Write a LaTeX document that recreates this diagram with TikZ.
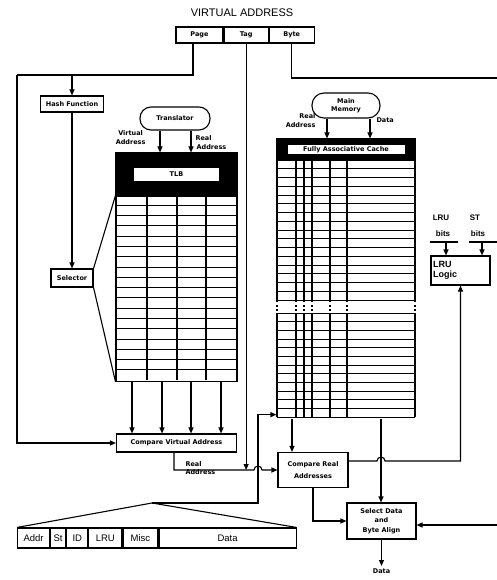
\documentclass[tikz,border=0pt]{standalone}
\usepackage{fontspec}
\setmainfont{Liberation Sans}
\newfontfamily\lblfont{DejaVu Sans}
\usetikzlibrary{arrows.meta,positioning}

\begin{document}
\begin{tikzpicture}[x=1pt, y=-1pt, line width=1.1pt,
  >={Stealth[inset=0pt, length=6pt, width=5pt]},
  lbl/.style={font=\lblfont\bfseries\fontsize{6.5}{8.5}\selectfont, align=center, inner sep=1pt},
  unit/.style={draw, lbl, inner sep=0pt},
  field/.style={draw, font=\fontsize{9.5}{11}\selectfont, minimum height=20pt, inner sep=0pt, anchor=west},
  bitlbl/.style={font=\bfseries\fontsize{8}{9}\selectfont, inner sep=0pt},
  rowline/.style={line width=0.8pt}]

\useasboundingbox (0,0) rectangle (497,580);

%%% Virtual address
\node[font=\fontsize{11}{13}\selectfont] (title) at (242,13) {VIRTUAL ADDRESS};
\node[unit, minimum width=47pt, minimum height=16pt] (page) at (199.5,35) {Page};
\node[unit, minimum width=44pt, minimum height=16pt, right=0pt of page] (tag) {Tag};
\node[unit, minimum width=45pt, minimum height=16pt, right=0pt of tag] (byte) {Byte};

%%% TLB side
\node[unit, minimum width=63pt, minimum height=16pt] (hash) at (72,104) {Hash Function};
\node[unit, minimum width=42pt, minimum height=18pt] (sel) at (72,278) {Selector};
\node[unit, rounded corners=11pt, minimum width=70pt, minimum height=23pt] (trans) at (175,118.5) {Translator};

% TLB header and table
\node[draw, fill=black, minimum width=121pt, minimum height=42pt, inner sep=0pt] (tlb) at (176.5,174) {};
\node[lbl, fill=white, minimum width=85pt, minimum height=13pt, inner sep=0pt] (tlbname) at (tlb) {TLB};
\node[draw, minimum width=121pt, minimum height=185pt, inner sep=0pt, below=0pt of tlb] (tlbtab) {};
\foreach \r in {1,...,17}
  \draw[rowline] (116,{195+\r*10.28}) -- (237,{195+\r*10.28});
\foreach \c in {147,177,206}
  \draw[line width=1.3pt] (\c,195) -- (\c,380);

\node[unit, minimum width=120pt, minimum height=18pt] (cva) at (176.5,443) {Compare Virtual Address};

% Translator labels
\node[lbl, anchor=east] (tva) at (147,137.5) {Virtual\\Address};
\node[lbl, align=left, anchor=west] (tra) at (194,142.5) {Real\\[1pt]\,Address};

%%% Cache side
\node[unit, rounded corners=12pt, minimum width=68pt, minimum height=25pt] (mm) at (346,105.5) {Main\\Memory};
\node[lbl, align=right, anchor=east] (mra) at (317,120.5) {Real\\Address};
\node[lbl, anchor=west] (mdata) at (375,120) {Data};

\node[draw, fill=black, minimum width=138pt, minimum height=21pt, inner sep=0pt] (cache) at (346,149.5) {};
\node[lbl, fill=white, minimum width=117pt, minimum height=9pt, inner sep=0pt] (cachename) at (cache) {Fully Associative Cache};
\node[minimum width=138pt, minimum height=257pt, inner sep=0pt, below=0pt of cache] (ctab) {};
\foreach \c in {277,296,304,312,330,347,415} {
  \draw[line width=1.3pt] (\c,160) -- (\c,300);
  \draw[line width=1.3pt, dash pattern=on 2pt off 2.5pt] (\c,300) -- (\c,313);
  \draw[line width=1.3pt] (\c,313) -- (\c,417);
}
\foreach \r in {1,...,16}
  \draw[rowline] (277,{160+\r*8.75}) -- (415,{160+\r*8.75});
\foreach \r in {0,...,12}
  \draw[rowline] (277,{313+\r*8.667}) -- (415,{313+\r*8.667});

\node[unit, minimum width=70pt, minimum height=35pt] (cra) at (313,470) {Compare Real\\[3pt]Addresses};
\node[unit, minimum width=69pt, minimum height=36pt] (seld) at (381.5,521) {Select Data\\[1pt]and\\[1pt]Byte Align};

% LRU logic
\node[bitlbl] (lrub) at (441,218) {LRU};
\node[bitlbl] (lrubits) at (443,234) {bits};
\node[bitlbl] (stb) at (475,218) {ST};
\node[bitlbl] (stbits) at (478,234) {bits};
\node[draw, minimum width=59pt, minimum height=29pt, text width=55pt, align=left,
  font=\bfseries\fontsize{9}{10}\selectfont, inner sep=2pt] (lru) at (460.5,270.5) {LRU\\Logic};
\coordinate (lrutap) at (446,242);
\coordinate (sttap) at (482,242);
\draw (430,242) -- (458,242);
\draw (469,242) -- (497,242);

%%% Cache line format
\coordinate (apex) at (152,503);
\node[field, minimum width=32pt] (faddr) at (17,538) {Addr};
\node[field, minimum width=15pt, right=0pt of faddr] (fst) {St};
\node[field, minimum width=21pt, right=0pt of fst] (fid) {ID};
\node[field, minimum width=33pt, right=0pt of fid] (flru) {LRU};
\node[field, minimum width=35pt, right=0pt of flru] (fmisc) {Misc};
\node[field, minimum width=137pt, right=0pt of fmisc] (fdata) {Data};
\draw (faddr.north west) -- (apex) -- (fdata.north east);

%%% Connectors
% page number
\coordinate (pgturn) at (17,75);
\draw ([xshift=-6.5pt]page.south) |- (pgturn);
\draw[->] (pgturn) |- (cva.west);
\draw[->] (hash.north |- pgturn) -- (hash.north);
\draw[->] (hash.south) -- (sel.north);
\draw (sel.north east) -- (tlbtab.north west);
\draw (sel.south east) -- (tlbtab.south west);

% translator into TLB
\draw[->] ([xshift=-15pt]trans.south) -- ([xshift=-15pt]trans.south |- tlb.north);
\draw[->] ([xshift=16pt]trans.south) -- ([xshift=16pt]trans.south |- tlb.north);

% TLB entries to compare
\foreach \c in {132,162,191,221} {
  \coordinate (col) at (\c,0);
  \draw[->] (col |- tlbtab.south) -- (col |- cva.north);
}

% real address and tag
\coordinate (rajoin) at (245,470);
\coordinate (hopA) at (258,470);
\draw[->] (tag.south) -- (tag.south |- rajoin);
\draw[->] ([xshift=-2.5pt]cva.south) |- ([xshift=-4pt]hopA) arc (180:360:4) -- (cra.west);
\node[lbl, align=left, anchor=west] (ralbl) at (184,468) {Real\\Address};

% line loop into cache
\coordinate (loopc) at (258,503);
\draw[->] (apex) -- (loopc) |- ([yshift=4pt]ctab.south west);

% main memory into cache
\draw[->] ([xshift=-19pt]mm.south) -- ([xshift=-19pt]mm.south |- cache.north);
\draw[->] ([xshift=24pt]mm.south) -- ([xshift=24pt]mm.south |- cache.north);

% cache to compare and select
\coordinate (acol) at (292,0);
\coordinate (dcol) at (381,0);
\draw[->] (acol |- ctab.south) -- (acol |- cra.north);
\draw[->] (dcol |- ctab.south) -- (dcol |- seld.north);
\draw[->] (cra.south) |- (seld.west);

% compare to LRU logic
\coordinate (hopB) at (381,461);
\draw[->] (cra.east |- hopB) -- ([xshift=-4pt]hopB) arc (180:360:4) -| (lru.south);
\draw[->] (lrutap) -- (lrutap |- lru.north);
\draw[->] (sttap) -- (sttap |- lru.north);

% byte offset
\coordinate (byteedge) at (497,78);
\coordinate (byteret) at (497,525);
\draw (byte.south) |- (byteedge);
\draw[->] (byteret) -- (byteret -| seld.east);

% data out
\coordinate (dataout) at (381.5,566);
\draw[->] (seld.south) -- (dataout);
\node[lbl, below=1pt of dataout] (dataname) {Data};

\end{tikzpicture}
\end{document}
